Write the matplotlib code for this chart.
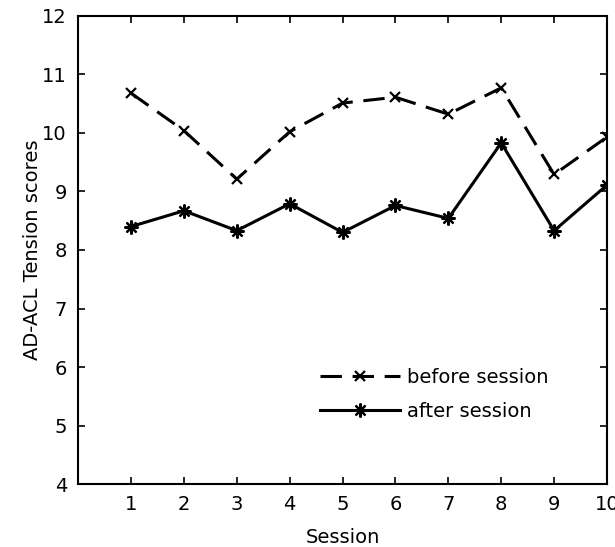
import matplotlib
matplotlib.use("Agg")
import matplotlib.pyplot as plt

sessions = [1, 2, 3, 4, 5, 6, 7, 8, 9, 10]
before = [10.68, 10.04, 9.21, 10.02, 10.51, 10.61, 10.32, 10.77, 9.29, 9.93]
after = [8.40, 8.67, 8.33, 8.79, 8.30, 8.76, 8.54, 9.83, 8.33, 9.11]

plt.rcParams["font.family"] = ["DejaVu Sans"]
plt.rcParams["font.size"] = 14

fig = plt.figure(figsize=(6.15, 5.47), dpi=100)
ax = fig.add_axes([0.127, 0.115, 0.86, 0.856])

ax.plot(sessions, before, color="black", lw=2.2, dashes=(7, 3.5),
        marker="x", ms=7, mew=1.6, label="before session")
ax.plot(sessions, after, color="black", lw=2.2,
        marker=(8, 2, 0), ms=10, mew=1.6, label="after session")

ax.set_xlim(0, 10)
ax.set_ylim(4, 12)
ax.set_xticks(sessions)
ax.set_yticks(range(4, 13))
ax.tick_params(direction="in", top=True, right=True, length=5, width=1.2,
               labelsize=14, pad=8)
for s in ax.spines.values():
    s.set_linewidth(1.5)

ax.set_xlabel("Session", fontsize=14, labelpad=10)
ax.set_ylabel("AD-ACL Tension scores", fontsize=14, labelpad=0)

ax.legend(loc="lower left", bbox_to_anchor=(0.457, 0.135), frameon=False,
          borderpad=0, borderaxespad=0,
          numpoints=1, handlelength=4.1, handletextpad=0.4, labelspacing=0.75,
          fontsize=14)

fig.savefig("out.png", dpi=100)
